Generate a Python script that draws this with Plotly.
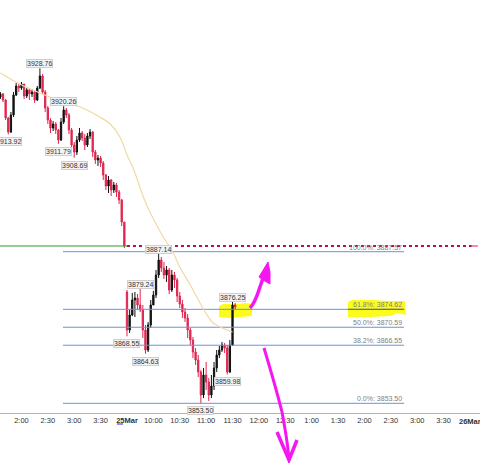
import plotly.graph_objects as go

# ---------------- data ----------------
# previous session, 3-minute bars (minutes relative to 25Mar 9:30 open, overnight gap removed)
prev_open0 = 3922.33
prev_close = [3923.01, 3921.66, 3917.61, 3914.47, 3918.29, 3922.78, 3924.80, 3924.35, 3925.25, 3922.56,
              3923.91, 3923.01, 3923.46, 3921.66, 3924.35, 3927.05, 3923.46, 3919.86, 3917.16, 3915.37,
              3916.26, 3914.92, 3912.67, 3916.71, 3919.41, 3918.29, 3914.92, 3911.55, 3909.97, 3912.67,
              3914.24, 3913.12, 3911.55, 3913.57, 3914.47, 3909.97, 3908.17, 3908.62, 3907.50, 3904.80,
              3902.33, 3903.68, 3901.43, 3902.56, 3900.98, 3899.19, 3894.24, 3888.85]
prev_high = [3923.46, 3923.23, 3921.88, 3917.84, 3918.96, 3923.46, 3925.48, 3925.25, 3925.70, 3925.03,
             3924.35, 3924.35, 3924.13, 3923.68, 3924.80, 3928.76, 3927.50, 3923.91, 3920.31, 3917.61,
             3916.94, 3916.71, 3915.14, 3917.61, 3920.26, 3919.86, 3918.74, 3915.37, 3912.22, 3913.57,
             3915.37, 3914.69, 3914.02, 3914.24, 3915.14, 3914.69, 3910.42, 3909.30, 3909.07, 3907.95,
             3905.03, 3904.58, 3903.90, 3903.23, 3903.01, 3901.43, 3899.41, 3894.24]
prev_low = [3921.88, 3921.21, 3917.16, 3913.92, 3914.24, 3917.84, 3922.56, 3923.46, 3923.91, 3921.88,
            3922.11, 3921.66, 3922.33, 3920.98, 3921.43, 3924.13, 3923.01, 3918.96, 3916.26, 3914.24,
            3914.69, 3914.02, 3911.79, 3912.44, 3916.26, 3917.61, 3914.02, 3910.42, 3908.69, 3909.30,
            3912.22, 3912.44, 3910.42, 3911.10, 3912.89, 3908.85, 3907.28, 3906.83, 3906.60, 3903.68,
            3901.43, 3900.76, 3900.08, 3900.76, 3899.86, 3898.29, 3893.34, 3888.40]

# 25Mar session, 3-minute bars
day_open0 = 3878.51
day_close = [3869.97, 3873.34, 3876.71, 3877.16, 3875.59, 3874.47, 3869.97, 3865.48, 3871.10, 3875.59,
             3877.84, 3882.33, 3885.70, 3883.91, 3882.33, 3883.46, 3878.96, 3882.33, 3881.21, 3877.61,
             3875.82, 3874.02, 3872.67, 3869.97, 3867.73, 3865.03, 3863.23, 3860.53, 3855.37, 3859.86,
             3858.29, 3855.37, 3857.39, 3861.43, 3864.35, 3865.48, 3866.60, 3865.93, 3860.53, 3866.60,
             3875.59, 3875.14]
day_high = [3878.96, 3874.47, 3878.29, 3878.51, 3878.06, 3879.24, 3875.59, 3871.10, 3871.77, 3876.71,
            3878.74, 3883.46, 3887.14, 3886.38, 3885.25, 3884.35, 3883.91, 3883.46, 3883.01, 3881.66,
            3878.51, 3876.71, 3874.92, 3873.57, 3870.42, 3868.40, 3865.93, 3864.35, 3860.98, 3861.43,
            3862.78, 3859.19, 3859.86, 3862.78, 3865.48, 3866.38, 3867.28, 3867.05, 3866.60, 3867.73,
            3876.25, 3876.04]
day_low = [3868.55, 3869.30, 3873.12, 3872.89, 3874.47, 3874.02, 3868.17, 3864.63, 3865.03, 3870.42,
           3877.16, 3877.16, 3881.66, 3883.01, 3881.43, 3880.76, 3878.06, 3878.51, 3879.41, 3876.26,
           3874.92, 3872.67, 3871.77, 3868.17, 3866.60, 3863.68, 3862.11, 3859.41, 3853.50, 3854.69,
           3856.49, 3854.02, 3854.69, 3856.49, 3860.53, 3863.68, 3865.03, 3864.80, 3859.98, 3860.31,
           3866.38, 3874.47]

prev_times = list(range(-144, 0, 3))
day_times = list(range(0, 124, 3))

# moving average (tan line)
ma_times = [-144, -122, -99, -76, -53, -31, -19, -8, 0, 7, 15, 20, 26, 32, 38, 44, 51, 60, 72, 83, 91, 98, 106, 114, 120]
ma_values = [3927.72, 3925.25, 3923.23, 3921.43, 3920.08, 3917.84, 3916.27, 3913.34, 3909.29, 3906.37,
             3901.88, 3899.18, 3896.48, 3894.24, 3891.99, 3889.97, 3887.94, 3884.13, 3880.08, 3876.04,
             3873.34, 3871.54, 3870.65, 3869.97, 3869.52]

prev_close_level = 3888.85

fib_labels = ["100.0%", "61.8%", "50.0%", "38.2%", "0.0%"]
fib_values = [3887.57, 3874.62, 3870.59, 3866.55, 3853.50]

swing_times = [-135, -99, -78, -72, -60, 0, 15, 21, 36, 84, 114, 120]
swing_values = [3913.92, 3928.76, 3911.79, 3920.26, 3908.69, 3868.55, 3879.24, 3864.63, 3887.14, 3853.50, 3859.98, 3876.25]
swing_side = ["low", "high", "low", "high", "low", "low", "high", "low", "high", "low", "low", "high"]

tick_vals = [-120, -90, -60, -30, 0, 30, 60, 90, 120, 150, 180, 210, 240, 270, 300, 330, 360]
tick_text = ["2:00", "2:30", "3:00", "3:30", "<b>25Mar</b>", "10:00", "10:30", "11:00", "11:30", "12:00",
             "12:30", "1:00", "1:30", "2:00", "2:30", "3:00", "3:30"]
# labels that sit partly beyond the plot edges
edge_tick_vals = [-150, 390]
edge_tick_text = ["1:30", "<b>26Mar</b>"]

# ---------------- layout constants ----------------
W, H = 480, 463
PLOT_H = 413
X_RANGE = [-144.4, 401.4]
Y_RANGE = [3851.32, 3944.13]
FIB_X0, FIB_X1 = -72.8, 315
FONT = "Liberation Sans"

times = prev_times + day_times
opens = [prev_open0] + prev_close[:-1] + [day_open0] + day_close[:-1]
closes = prev_close + day_close
highs = prev_high + day_high
lows = prev_low + day_low

fig = go.Figure()

# prior close reference lines
fig.add_trace(go.Scatter(x=[X_RANGE[0], 0], y=[prev_close_level] * 2, mode="lines",
                         line=dict(color="#2e9a2e", width=1), hoverinfo="skip"))
fig.add_trace(go.Scatter(x=[0, 392], y=[prev_close_level] * 2, mode="lines",
                         line=dict(color="#b8124e", width=2, dash="dot"), hoverinfo="skip"))
fig.add_trace(go.Scatter(x=[392, 399], y=[prev_close_level] * 2, mode="lines",
                         line=dict(color="#e0204a", width=1), hoverinfo="skip"))

# fib lines
for lab, v in zip(fib_labels, fib_values):
    fig.add_trace(go.Scatter(x=[FIB_X0, FIB_X1], y=[v, v], mode="lines",
                             line=dict(color="#6d8fe6", width=1), hoverinfo="skip"))

# moving average
fig.add_trace(go.Scatter(x=ma_times, y=ma_values, mode="lines", line=dict(color="#f1d9a6", width=1.2),
                         line_shape="spline", hoverinfo="skip"))

# candles
fig.add_trace(go.Candlestick(x=times, open=opens, high=highs, low=lows, close=closes,
                             increasing=dict(line=dict(color="#111111", width=1), fillcolor="#111111"),
                             decreasing=dict(line=dict(color="#e0264f", width=1), fillcolor="#e0264f"),
                             whiskerwidth=0, hoverinfo="skip"))

annotations = []
for lab, v in zip(fib_labels, fib_values):
    annotations.append(dict(x=FIB_X1, y=v, xref="x", yref="y", text=f"{lab}: {v:.2f}", showarrow=False,
                            xanchor="right", yanchor="bottom", yshift=-1,
                            font=dict(family=FONT, size=7, color="#808080")))
for t, v, s in zip(swing_times, swing_values, swing_side):
    annotations.append(dict(x=t, y=v, xref="x", yref="y", text=f"{v:.2f}", showarrow=False,
                            xanchor="center", yanchor="bottom" if s == "high" else "top",
                            yshift=0 if s == "high" else -3,
                            bgcolor="#f3f3f3", bordercolor="#cfcfcf", borderwidth=1, borderpad=0,
                            font=dict(family=FONT, size=7, color="#333333")))
for t, txt in zip(edge_tick_vals, edge_tick_text):
    annotations.append(dict(x=t, y=0, xref="x", yref="paper", text=txt, showarrow=False,
                            xanchor="center", yanchor="top", yshift=-2,
                            font=dict(family=FONT, size=7.5, color="#333333")))


def P(px, py):
    return f"{px / W:.5f},{1 - py / PLOT_H:.5f}"


def path(points, close=False):
    s = "M " + " L ".join(P(x, y) for x, y in points)
    return s + (" Z" if close else "")


shapes = []
# yellow highlighter blobs
yellow1 = [(219, 306), (223, 304), (236, 304), (246, 303), (252, 304), (252, 316), (241, 317), (229, 318), (219, 317)]
yellow2 = [(348, 302), (352, 300), (372, 300), (390, 301), (405, 301), (406, 315), (398, 313), (390, 316), (370, 317), (348, 317)]
for poly in (yellow1, yellow2):
    shapes.append(dict(type="path", xref="paper", yref="paper", path=path(poly, True),
                       fillcolor="#fbfb1e", line=dict(width=0), layer="below"))
# darkened fib line under highlighter
shapes.append(dict(type="line", xref="paper", yref="paper", x0=348 / W, x1=404 / W,
                   y0=1 - 309.3 / PLOT_H, y1=1 - 309.3 / PLOT_H, line=dict(color="#6b7318", width=1), layer="above"))

MAG = "#f517f0"
# up arrow
shapes.append(dict(type="path", xref="paper", yref="paper",
                   path="M " + P(250, 308) + " C " + P(256, 302) + " " + P(258, 292) + " " + P(261, 284) + " L " + P(265, 272),
                   line=dict(color=MAG, width=3.5), layer="above"))
shapes.append(dict(type="path", xref="paper", yref="paper",
                   path=path([(268, 262), (259, 277), (263, 280), (270, 284), (270, 272)], True),
                   fillcolor=MAG, line=dict(color=MAG, width=1), layer="above"))
# down arrow
shapes.append(dict(type="path", xref="paper", yref="paper",
                   path="M " + P(264, 348) + " C " + P(270, 368) + " " + P(277, 392) + " " + P(282, 412)
                        + " C " + P(285, 428) + " " + P(288, 445) + " " + P(289, 460),
                   line=dict(color=MAG, width=3), layer="above"))
shapes.append(dict(type="path", xref="paper", yref="paper",
                   path=path([(277, 432), (289, 460), (297, 440)]),
                   line=dict(color=MAG, width=3.5), layer="above"))
# small blue marker under date label
shapes.append(dict(type="line", xref="paper", yref="paper", x0=117 / W, x1=123 / W,
                   y0=1 - 424 / PLOT_H, y1=1 - 424 / PLOT_H, line=dict(color="#5b7be0", width=1.5)))

fig.update_layout(
    width=W, height=H,
    margin=dict(l=0, r=0, t=0, b=H - PLOT_H),
    paper_bgcolor="white", plot_bgcolor="white",
    showlegend=False,
    annotations=annotations,
    shapes=shapes,
    xaxis=dict(range=X_RANGE, tickvals=tick_vals, ticktext=tick_text, showgrid=False, zeroline=False,
               showline=True, linecolor="#b4b4b4", linewidth=1, ticks="",
               tickfont=dict(family=FONT, size=7.5, color="#333333"),
               rangeslider=dict(visible=False), fixedrange=True),
    yaxis=dict(range=Y_RANGE, visible=False, showgrid=False, zeroline=False, fixedrange=True),
)

fig.write_html("out.html")
